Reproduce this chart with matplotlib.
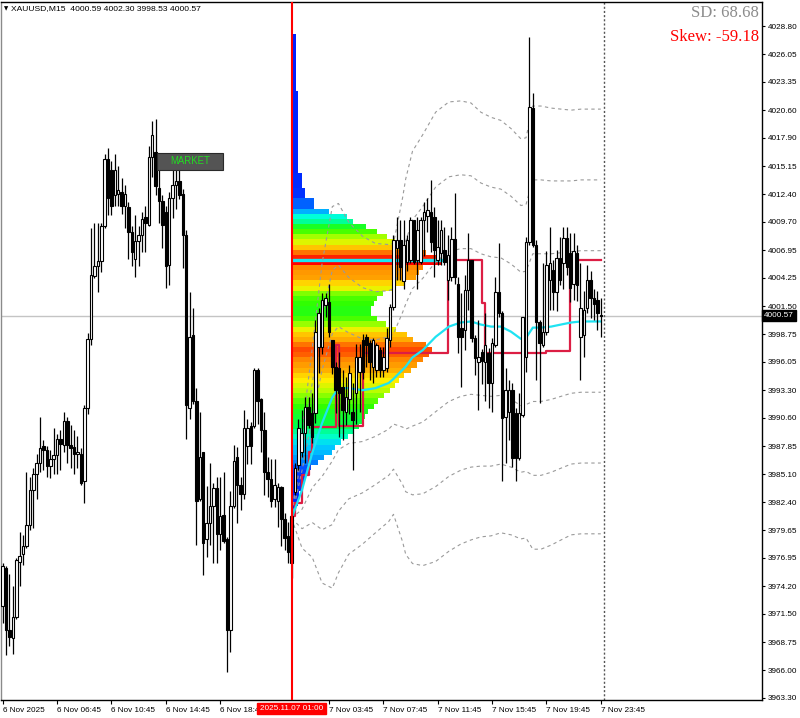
import matplotlib
matplotlib.use("Agg")
import matplotlib.pyplot as plt
import matplotlib.transforms as mtransforms
import numpy as np
from matplotlib.colors import LinearSegmentedColormap
from matplotlib.patches import Rectangle

# ============================================
# ローソク足 (XAUUSD M15)
# ============================================
opens = [
    3972.3, 3976.0, 3969.9, 3969.1, 3971.2, 3976.6, 3977.3, 3978.1, 3980.2, 3983.6,
    3985.1, 3986.2, 3987.9, 3987.5, 3985.9, 3986.6, 3987.0, 3988.5, 3988.0, 3990.3,
    3988.0, 3987.8, 3987.1, 3987.1, 3984.4, 3991.6, 3998.3, 4004.4, 4005.4, 4005.9,
    4009.3, 4015.8, 4014.8, 4012.3, 4012.4, 4012.6, 4011.3, 4011.2, 4008.7, 4006.1,
    4007.8, 4008.4, 4010.2, 4009.4, 4016.0, 4016.5, 4013.0, 4011.7, 4010.7, 4005.5,
    4012.0, 4013.3, 4013.7, 4012.4, 4008.4, 3991.6, 3998.7, 3992.2, 3982.7, 3987.3,
    3978.8, 3980.4, 3982.0, 3983.8, 3979.3, 3981.1, 3978.8, 3969.9, 3982.0, 3986.8,
    3984.1, 3983.2, 3987.9, 3989.8, 3989.8, 3995.3, 3992.4, 3989.4, 3985.3, 3984.6,
    3982.7, 3982.5, 3983.9, 3980.7, 3979.1, 3976.5, 3983.4, 3986.0, 3987.3, 3989.1,
    3991.7, 3991.1, 3991.1, 3997.5, 3997.5, 4001.6, 4001.9, 3998.2, 3995.6, 3995.5,
    3993.6, 3991.2, 3992.4, 3991.2, 3993.0, 3995.1, 3998.2, 3998.5, 3997.9, 3995.6,
    3995.3, 3997.2, 3995.3, 3995.5, 3998.2, 4001.4, 4007.2, 4007.9, 4003.9, 4005.8,
    4006.0, 4009.9, 4006.0, 4005.8, 4009.9, 4010.3, 4010.7, 4010.2, 4006.0, 4006.7,
    4007.0, 4004.0, 4004.3, 4008.0, 4003.7, 3999.4, 3999.2, 4003.1, 4006.0, 3998.4,
    3996.0, 3997.0, 3996.0, 3996.9, 3994.0, 3997.7, 4002.9, 4000.8, 3990.7, 3991.2,
    3993.3, 3991.1, 3986.7, 3990.9, 3996.5, 4007.7, 4020.8, 4007.5, 3999.9, 3997.7,
    3999.0, 4004.0, 4005.0, 4002.9, 4006.2, 4005.7, 4008.1, 4006.7, 4003.7, 4006.7,
    3998.5, 3998.7, 4001.3, 4004.0, 4002.3, 4002.1, 4000.59,
]
highs = [
    3976.5, 3976.2, 3975.4, 3974.2, 3976.9, 3979.5, 3979.2, 3985.3, 3984.8, 3985.7,
    3987.1, 3990.7, 3988.4, 3987.9, 3987.5, 3989.6, 3989.0, 3989.4, 3991.2, 3990.7,
    3989.9, 3989.4, 3988.8, 3987.7, 3991.9, 3998.9, 4009.1, 4009.6, 4009.6, 4009.6,
    4016.3, 4016.9, 4015.6, 4016.3, 4015.2, 4014.0, 4013.3, 4011.6, 4009.3, 4010.4,
    4009.3, 4010.7, 4011.3, 4017.1, 4019.5, 4019.7, 4014.8, 4012.3, 4011.3, 4012.6,
    4015.6, 4016.0, 4014.8, 4012.9, 4008.9, 4002.9, 4001.3, 3993.5, 3991.2, 3987.3,
    3984.0, 3986.2, 3984.3, 3984.8, 3984.8, 3985.3, 3979.0, 3983.5, 3988.0, 3987.8,
    3984.8, 3991.4, 3990.5, 3990.2, 3995.5, 3995.5, 3992.5, 3991.2, 3986.8, 3986.6,
    3986.6, 3984.3, 3984.0, 3981.3, 3980.5, 3981.5, 3986.2, 3990.5, 3991.4, 3992.6,
    3992.6, 3993.0, 4000.1, 4001.3, 4002.8, 4002.8, 4003.7, 3998.2, 3996.0, 3997.0,
    3995.3, 3994.6, 3995.8, 3994.0, 3997.8, 3997.8, 3998.8, 3998.8, 3998.2, 3998.4,
    3997.9, 3997.5, 3997.5, 3999.4, 4001.7, 4008.4, 4010.2, 4009.9, 4009.9, 4008.4,
    4010.2, 4009.9, 4010.2, 4010.2, 4011.6, 4012.0, 4013.8, 4011.2, 4009.9, 4009.9,
    4009.2, 4008.4, 4009.2, 4012.5, 4004.3, 4002.8, 4004.5, 4008.6, 4006.0, 3998.7,
    4000.1, 3997.3, 4000.8, 3997.4, 3998.4, 4004.3, 4007.6, 4001.0, 3995.5, 3994.3,
    3994.0, 3991.6, 3993.0, 4000.4, 4008.2, 4027.7, 4022.3, 4007.9, 4000.1, 4005.7,
    4006.9, 4009.2, 4006.0, 4007.0, 4008.2, 4009.2, 4009.2, 4008.6, 4008.6, 4007.5,
    4005.7, 4003.0, 4005.5, 4004.9, 4003.2, 4003.0, 4002.30,
]
lows = [
    3970.6, 3967.5, 3968.4, 3967.6, 3971.0, 3974.2, 3976.3, 3977.9, 3979.7, 3979.9,
    3982.7, 3985.3, 3985.5, 3984.8, 3984.7, 3985.1, 3985.1, 3985.5, 3987.3, 3986.2,
    3985.7, 3985.1, 3985.7, 3984.1, 3982.3, 3991.0, 3997.7, 4004.2, 4002.9, 4004.8,
    4009.1, 4010.4, 4010.4, 4011.3, 4011.3, 4010.5, 4009.1, 4006.1, 4005.4, 4004.3,
    4005.4, 4006.8, 4006.8, 4009.3, 4014.1, 4012.3, 4009.6, 4007.2, 4003.3, 4003.6,
    4010.1, 4011.0, 4011.9, 4005.2, 3988.5, 3990.5, 3992.0, 3978.2, 3982.5, 3975.3,
    3977.0, 3978.2, 3976.5, 3976.5, 3977.7, 3978.4, 3965.8, 3967.8, 3981.8, 3980.4,
    3981.6, 3982.7, 3986.1, 3986.1, 3989.6, 3990.0, 3987.3, 3983.1, 3982.9, 3981.9,
    3981.9, 3980.0, 3978.1, 3977.7, 3976.5, 3975.0, 3983.1, 3985.5, 3986.8, 3986.2,
    3989.6, 3988.2, 3990.1, 3995.0, 3996.8, 4000.4, 3998.5, 3994.9, 3991.1, 3988.7,
    3988.4, 3989.9, 3991.0, 3985.5, 3990.0, 3991.2, 3994.4, 3995.6, 3994.3, 3994.0,
    3994.6, 3994.6, 3994.6, 3995.1, 3997.5, 4001.1, 4004.0, 4004.0, 4003.2, 4004.9,
    4005.7, 4005.6, 4003.2, 4005.6, 4006.4, 4008.7, 4006.8, 4004.3, 4005.5, 4005.5,
    4005.5, 4002.1, 4003.9, 4003.7, 3996.9, 3993.6, 3997.2, 4001.1, 3998.0, 3994.8,
    3991.4, 3993.9, 3992.2, 3991.6, 3991.2, 3997.5, 4000.4, 3984.4, 3986.2, 3988.4,
    3985.8, 3984.4, 3986.5, 3990.7, 3995.1, 4007.5, 4007.3, 3994.3, 3992.1, 3997.5,
    3998.7, 4001.1, 4001.1, 4001.0, 4003.6, 4003.2, 4004.5, 4001.9, 4002.1, 4002.0,
    3994.3, 3996.5, 4000.8, 4000.3, 4000.1, 3999.2, 3998.53,
]
closes = [
    3976.2, 3969.9, 3969.2, 3971.2, 3976.7, 3977.1, 3978.1, 3980.2, 3983.6, 3985.1,
    3986.2, 3987.7, 3987.5, 3985.9, 3986.6, 3987.0, 3988.5, 3988.1, 3990.3, 3988.0,
    3987.7, 3987.1, 3987.3, 3984.3, 3991.6, 3998.3, 4004.5, 4005.4, 4005.9, 4009.3,
    4015.8, 4012.0, 4011.3, 4014.8, 4012.8, 4011.3, 4012.4, 4008.7, 4006.8, 4007.8,
    4008.4, 4010.0, 4009.6, 4016.0, 4018.2, 4013.2, 4011.7, 4009.4, 4005.4, 4012.0,
    4013.3, 4013.7, 4012.3, 4008.4, 3991.9, 3998.5, 3992.2, 3982.5, 3986.8, 3978.4,
    3980.4, 3982.0, 3983.8, 3979.3, 3981.0, 3978.6, 3969.9, 3982.0, 3986.4, 3984.1,
    3983.2, 3989.6, 3989.6, 3987.9, 3995.3, 3992.2, 3989.4, 3985.3, 3984.6, 3982.5,
    3984.1, 3983.9, 3980.7, 3978.9, 3977.5, 3981.0, 3985.7, 3989.6, 3989.1, 3991.7,
    3989.9, 3988.7, 3999.0, 4000.8, 4002.1, 4002.3, 3999.0, 3995.6, 3993.3, 3993.0,
    3991.4, 3992.6, 3995.0, 3990.4, 3996.5, 3996.5, 3995.1, 3997.7, 3996.0, 3998.2,
    3997.7, 3995.3, 3996.5, 3998.4, 4001.4, 4007.9, 4007.9, 4005.3, 4007.5, 4007.9,
    4009.9, 4005.8, 4008.9, 4009.9, 4010.7, 4010.9, 4007.7, 4007.0, 4007.3, 4008.9,
    4005.8, 4006.5, 4008.0, 4004.3, 3998.5, 3998.5, 4003.1, 4006.0, 3998.4, 3996.4,
    3996.5, 3996.1, 3997.7, 3994.0, 3997.9, 4002.9, 4000.8, 3990.6, 3993.3, 3993.3,
    3986.7, 3986.7, 3991.1, 4000.4, 4007.7, 4020.9, 4007.5, 3999.9, 3997.9, 3999.0,
    4005.5, 4005.7, 4002.9, 4006.2, 4004.0, 4008.1, 4005.3, 4003.3, 4006.9, 4003.6,
    4001.3, 4001.1, 4004.0, 4002.3, 4001.7, 4000.8, 4000.57,
]

SESSION_BAR = 85        # 2025.11.07 01:00
LAST_PRICE = 4000.57

# ============================================
# ボリュームプロファイル (上から下, 最大=100)
# ============================================
profile_top = 4027.75
profile_step = 0.5
profile_volume = [
    3, 3, 3, 3, 3, 3, 3, 3, 3, 3, 3,
    4, 4, 4, 4, 4, 4, 4, 4, 4, 4, 4, 4, 4, 4, 4, 4,
    7, 7, 7, 9, 9, 15, 15,
    25, 37, 41, 50, 57, 64, 69, 77, 90, 97,
    100, 88, 85, 83, 75, 70, 61, 57, 55, 53,
    53, 57, 63, 70, 77, 81, 90, 94, 92, 88,
    84, 80, 75, 72, 69, 66, 62, 58, 55, 51,
    49, 47, 45, 41, 38, 33, 29, 27, 22, 18,
    13, 11, 9, 8, 7, 5, 5, 4, 3, 3,
]
POC_PRICE = 4006.0

# ============================================
# VWAP と標準偏差
# ============================================
vwap_bars = [85, 88.1, 91.1, 94.0, 97.0, 98.8, 101.8, 105.9, 109.7, 113.6, 115.0,
             117.7, 118.6, 120.6, 123.6, 127.4, 131.3, 134.8, 137.8, 140.7, 143.7,
             146.6, 149.6, 152.5, 154.0, 156.0, 158.4, 161.4, 164.3, 167.3, 170.2, 176]
vwap_vals = [3980.8, 3983.6, 3987.2, 3990.1, 3992.6, 3993.5, 3993.5, 3993.3, 3993.5,
             3994.0, 3994.4, 3995.3, 3995.6, 3996.5, 3997.2, 3998.5, 3999.5, 3999.9,
             4000.0, 3999.7, 3999.5, 3999.5, 3999.0, 3998.3, 3998.4, 3999.4, 3999.4,
             3999.5, 3999.7, 3999.9, 4000.0, 4000.0]
vwap_sd = [0.0, 1.9, 3.4, 5.2, 6.2, 6.0, 5.4, 5.0, 4.7, 4.5, 4.4, 5.6, 6.1, 6.7, 7.0,
           7.3, 7.3, 7.2, 7.1, 6.9, 6.8, 6.7, 6.6, 6.5, 6.5, 7.2, 7.2, 7.1, 7.0, 6.9,
           6.9, 6.9]

# developing POC (ステップ)
dpoc_bars = [85, 86, 88, 90, 91, 98, 99, 106, 131, 141, 142, 160, 167, 176]
dpoc_vals = [3981.0, 3982.3, 3985.0, 3987.3, 3989.7, 3997.7, 3989.8, 3996.9, 4006.0,
             4001.8, 3996.9, 3997.1, 4006.0, 4006.0]

# ============================================
# 軸ラベル
# ============================================
price_ticks = [4028.80, 4026.05, 4023.35, 4020.60, 4017.90, 4015.15, 4012.40, 4009.70,
               4006.95, 4004.25, 4001.50, 3998.75, 3996.05, 3993.30, 3990.60, 3987.85,
               3985.10, 3982.40, 3979.65, 3976.95, 3974.20, 3971.50, 3968.75, 3966.00,
               3963.30]
time_ticks = [0, 16, 32, 48, 64, 96, 112, 128, 144, 160, 176]
time_labels = ["6 Nov 2025", "6 Nov 06:45", "6 Nov 10:45", "6 Nov 14:45",
               "6 Nov 18:45", "7 Nov 03:45", "7 Nov 07:45", "7 Nov 11:45",
               "7 Nov 15:45", "7 Nov 19:45", "7 Nov 23:45"]

SD_TEXT = "SD: 68.68"
SKEW_TEXT = "Skew: -59.18"
HEADER = "XAUUSD,M15  4000.59 4002.30 3998.53 4000.57"

# ============================================
# 描画
# ============================================
UI_FONT = ["Liberation Sans", "DejaVu Sans"]
FS = 5.9

fig = plt.figure(figsize=(8.0, 7.18), dpi=100)
ax = fig.add_axes([1 / 800, 18 / 718, 760.5 / 800, 698.5 / 718])
ax.set_xlim(-0.5, 223.3)
ax.set_ylim(3963.1, 4031.19)

# profile
prof_cmap = LinearSegmentedColormap.from_list("vp", [
    (0.00, "#0018ff"), (0.10, "#0034ff"), (0.20, "#0090ff"), (0.30, "#00ccff"),
    (0.37, "#00ffd8"), (0.45, "#00ff50"), (0.55, "#30ff00"), (0.65, "#b0ff00"),
    (0.72, "#ffee00"), (0.80, "#ffb000"), (0.88, "#ff8a00"), (0.94, "#ff4a00"),
    (1.00, "#ff0000"),
])
vol = np.array(profile_volume, dtype=float)
levels = profile_top - profile_step * np.arange(len(vol))
max_width = 44.0
ax.barh(levels, vol / vol.max() * max_width, height=profile_step, left=SESSION_BAR,
        color=prof_cmap(vol / vol.max()), linewidth=0, zorder=1)
ax.plot([SESSION_BAR, SESSION_BAR + 46.5], [POC_PRICE, POC_PRICE], color="#19e6f5",
        lw=2.4, solid_capstyle="butt", zorder=2)

# bid line / separators
ax.axhline(LAST_PRICE, color="#c4c4c4", lw=1.0, zorder=0.5)
ax.axvline(len(closes), color="#555555", lw=1.0, ls=(0, (1.5, 1.5)), zorder=0.6)

# VWAP bands
vb = np.array(vwap_bars)
vv = np.array(vwap_vals)
vs = np.array(vwap_sd)
for k in (1, 2, 3):
    for sgn in (1, -1):
        ax.plot(vb, vv + sgn * k * vs, color="#9a9a9a", lw=0.8,
                ls=(0, (3, 3)), zorder=3)
ax.plot(vb, vv, color="#1fe3f2", lw=1.6, zorder=3.2)
ax.step(dpoc_bars, dpoc_vals, where="post", color="#dc1e44", lw=1.6, zorder=3.1)

# candles
o = np.array(opens)
h = np.array(highs)
l = np.array(lows)
c = np.array(closes)
xs = np.arange(len(c))
up = c >= o
body_lo = np.minimum(o, c)
body_h = np.maximum(np.abs(c - o), 0.1)
ax.vlines(xs, l, h, color="black", lw=0.9, zorder=5)
ax.bar(xs[up], body_h[up], bottom=body_lo[up], width=0.74, color="white",
       edgecolor="black", linewidth=0.8, zorder=6)
ax.bar(xs[~up], body_h[~up], bottom=body_lo[~up], width=0.74, color="black",
       edgecolor="black", linewidth=0.8, zorder=6)

# session start line
ax.axvline(SESSION_BAR, color="#ff0000", lw=1.5, zorder=7)

# MARKET label
ax.add_patch(Rectangle((45.4, 4014.8), 19.5, 1.62, facecolor="#545454",
                       edgecolor="#2a2a2a", lw=0.8, zorder=8))
ax.text(55.15, 4015.61, "MARKET", color="#22dd22", fontsize=6.9, family=UI_FONT,
        ha="center", va="center", zorder=9)

# axes style
for side in ("top", "right", "bottom"):
    ax.spines[side].set_color("black")
    ax.spines[side].set_linewidth(1.0)
ax.spines["left"].set_color("#8a8a8a")
ax.spines["left"].set_linewidth(1.0)

ax.yaxis.tick_right()
ax.set_yticks(price_ticks)
ax.set_yticklabels([f"{p:.2f}" for p in price_ticks])
ax.tick_params(axis="y", length=2.5, width=0.8, pad=2, labelsize=FS)
ax.set_xticks(time_ticks)
ax.set_xticklabels(time_labels, ha="left")
ax.tick_params(axis="x", length=3, width=0.8, pad=2, labelsize=FS)
for lab in ax.get_xticklabels() + ax.get_yticklabels():
    lab.set_family(UI_FONT)

# current price box
trans_y = mtransforms.blended_transform_factory(ax.transAxes, ax.transData)
ax.text(1.0 + 2.5 / 760, LAST_PRICE, f"{LAST_PRICE:.2f}", transform=trans_y,
        color="white", fontsize=FS, family=UI_FONT, ha="left", va="center",
        bbox=dict(boxstyle="square,pad=0.2", fc="black", ec="black"),
        zorder=10, clip_on=False)

# session date box
trans_x = mtransforms.blended_transform_factory(ax.transData, ax.transAxes)
ax.text(SESSION_BAR, -8.5 / 698.5, "2025.11.07 01:00", transform=trans_x,
        color="white", fontsize=FS, family=UI_FONT, ha="center", va="center",
        bbox=dict(boxstyle="square,pad=0.3", fc="#ff0000", ec="#ff0000"),
        zorder=10, clip_on=False)

# texts
fig.text(759 / 800, 1 - 13 / 718, SD_TEXT, color="#8c8c8c", fontsize=12,
         family="Liberation Serif", ha="right", va="center")
fig.text(759 / 800, 1 - 37 / 718, SKEW_TEXT, color="#ff0000", fontsize=12,
         family="Liberation Serif", ha="right", va="center")
fig.text(4 / 800, 1 - 9 / 718, "\u25bc", color="black", fontsize=4,
         family="DejaVu Sans", ha="left", va="center")
fig.text(11 / 800, 1 - 9 / 718, HEADER, color="black", fontsize=6.1,
         family=UI_FONT, ha="left", va="center")

fig.savefig("out.png", dpi=100)
